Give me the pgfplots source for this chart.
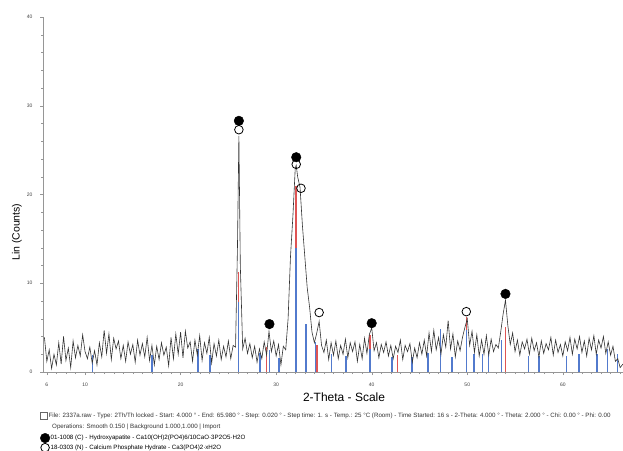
\documentclass[border=0pt]{standalone}
\usepackage{pgfplots}
\pgfplotsset{compat=1.18}
\usepackage{fontspec}
\setmainfont{Liberation Sans}
\definecolor{stickred}{RGB}{222,84,84}
\definecolor{stickblue}{RGB}{82,122,205}
\definecolor{axisgray}{RGB}{150,150,150}
\begin{document}
\begin{tikzpicture}
\useasboundingbox (0pt,0pt) rectangle (623pt,450pt);
\clip (0pt,0pt) rectangle (623pt,450pt);
\begin{axis}[
  at={(43pt,78pt)}, anchor=south west,
  scale only axis, width=580pt, height=355pt,
  xmin=5.6, xmax=66.3, ymin=0, ymax=40,
  axis x line=bottom, axis y line=left,
  axis line style={-, axisgray, line width=0.6pt},
  every tick/.style={axisgray, line width=0.4pt},
  tick align=outside, major tick length=3pt, minor tick length=2pt,
  xtick={6,10,20,30,40,50,60},
  minor xtick={7,8,9,11,12,...,19,21,22,...,29,31,32,...,39,41,42,...,49,51,52,...,59,61,62,...,66},
  ytick={0,10,20,30,40},
  minor ytick={2,4,...,38},
  /pgf/number format/assume math mode=true,
  tick label style={font=\fontsize{5}{6}\selectfont, text=black!75},
  xticklabel style={yshift=-4pt},
  yticklabel style={xshift=-4pt},
  xlabel={2-Theta - Scale},
  xlabel style={font=\fontsize{12}{14}\selectfont, at={(axis description cs:0.519,-0.07)}, anchor=center},
  ylabel={Lin (Counts)},
  ylabel style={font=\fontsize{10.5}{12}\selectfont, at={(axis description cs:-0.045,0.394)}, anchor=center},
  legend style={at={(axis description cs:-0.005,-0.172)}, anchor=north west, draw=none, fill=none,
    font=\fontsize{6.2}{7}\selectfont, inner sep=0pt, row sep=0.5pt,
    nodes={inner sep=0.8pt}},
  legend cell align=left,
  clip=false,
]
% red sticks (reference pattern)
\addplot[ycomb, stickred, line width=1.5pt, forget plot] coordinates {
(26.05,11.3) (29.0,2.8) (32.1,21.0) (34.3,3.0) (39.8,4.2) (42.7,1.9) (49.9,6.2) (54.0,5.1)
};
% blue sticks (reference pattern)
\addplot[ycomb, stickblue, line width=1.5pt, forget plot] coordinates {
(10.8,1.9) (17.0,1.9) (21.8,2.6) (23.1,1.9) (26.05,7.9) (28.3,2.1) (29.3,2.5) (30.3,1.6)
(32.1,14.0) (33.1,5.4) (34.1,3.4) (35.8,2.0) (37.3,1.8) (39.8,2.6) (42.1,1.7) (44.2,1.7)
(45.9,2.1) (47.2,4.9) (48.4,1.7) (49.9,4.7) (50.7,2.0) (51.6,2.0) (52.2,2.3) (53.6,3.6)
(56.4,1.8) (57.5,1.8) (60.4,1.8) (61.7,2.0) (63.6,2.0) (64.7,2.6) (65.7,2.0)
};
% measured pattern
\addplot[black!80, line width=0.6pt, forget plot] coordinates {
(5.75,3.9) (6.0,1.2) (6.25,2.5) (6.5,0.4) (6.75,2.0) (7.0,0.8) (7.25,3.3) (7.5,0.9) (7.75,4.0) (8.0,1.3)
(8.25,2.7) (8.5,0.5) (8.75,3.5) (9.0,1.6) (9.25,3.0) (9.5,1.8) (9.75,4.2) (10.0,2.3)
(10.25,1.5) (10.5,2.8) (10.75,1.0) (11.0,2.4) (11.25,0.8) (11.5,3.3) (11.75,1.7) (12.0,4.7) (12.25,2.1) (12.5,4.3)
(12.75,1.4) (13.0,3.8) (13.25,2.6) (13.5,3.5) (13.75,1.5) (14.0,3.0) (14.25,1.2) (14.5,3.4) (14.75,2.0) (15.0,3.1)
(15.25,1.1) (15.5,3.6) (15.75,1.9) (16.0,3.2) (16.25,1.7) (16.5,3.9) (16.75,1.3) (17.0,3.0) (17.25,0.8) (17.5,2.9)
(17.75,1.4) (18.0,3.3) (18.25,1.9) (18.5,2.8) (18.75,0.7) (19.0,3.9) (19.25,1.5) (19.5,4.3) (19.75,2.0) (20.0,4.5)
(20.25,1.6) (20.5,4.6) (20.75,2.7) (21.0,3.4) (21.25,1.2) (21.5,3.6) (21.75,1.9) (22.0,4.1) (22.25,1.3) (22.5,3.3)
(22.75,2.1) (23.0,3.9) (23.25,1.0) (23.5,3.2) (23.75,1.8) (24.0,3.6) (24.25,1.4) (24.5,2.9) (24.75,1.7) (25.0,3.5)
(25.25,1.5) (25.5,3.0) (25.75,2.8) (25.95,14.0) (26.1,26.6) (26.25,12.0) (26.5,2.6) (26.75,3.8) (27.0,2.1) (27.25,3.2)
(27.5,1.6) (27.75,2.9) (28.0,1.1) (28.25,2.6) (28.5,1.5) (28.75,3.4) (29.0,1.9) (29.25,4.6) (29.5,2.3) (29.75,3.5)
(30.0,1.8) (30.25,3.1) (30.5,0.8) (30.75,2.9) (31.0,2.5) (31.25,6.0) (31.5,13.0) (31.75,17.5) (32.0,23.0) (32.1,23.3)
(32.25,22.0) (32.5,20.8) (32.75,16.5) (33.0,13.0) (33.25,9.5) (33.5,7.3) (33.75,4.5) (34.0,3.3) (34.25,4.4) (34.5,5.7)
(34.75,3.0) (35.0,2.2) (35.25,3.6) (35.5,1.4) (35.75,3.3) (36.0,1.9) (36.25,3.5) (36.5,1.5) (36.75,3.0) (37.0,2.0)
(37.25,3.7) (37.5,1.6) (37.75,3.3) (38.0,2.3) (38.25,3.4) (38.5,1.2) (38.75,3.1) (39.0,1.5) (39.25,3.8) (39.5,2.1)
(39.75,4.2) (40.0,5.0) (40.25,2.4) (40.5,3.3) (40.75,1.6) (41.0,3.1) (41.25,2.2) (41.5,3.4) (41.75,1.8) (42.0,3.0)
(42.25,1.5) (42.5,2.9) (42.75,2.2) (43.0,3.6) (43.25,1.4) (43.5,3.0) (43.75,2.3) (44.0,3.2) (44.25,1.1) (44.5,2.7)
(44.75,1.6) (45.0,3.3) (45.25,2.0) (45.5,3.6) (45.75,1.8) (46.0,4.4) (46.25,2.3) (46.5,4.7) (46.75,2.5) (47.0,3.9)
(47.25,2.0) (47.5,4.2) (47.75,2.8) (48.0,5.8) (48.25,2.6) (48.5,4.3) (48.75,1.7) (49.0,3.5) (49.25,2.4) (49.5,3.9)
(49.75,5.0) (50.0,6.0) (50.25,3.0) (50.5,4.6) (50.75,2.2) (51.0,4.2) (51.25,1.8) (51.5,3.6) (51.75,2.0) (52.0,4.1)
(52.25,1.9) (52.5,3.7) (52.75,2.3) (53.0,3.1) (53.25,2.7) (53.5,4.5) (53.75,6.5) (54.0,8.1) (54.25,5.2) (54.5,3.1)
(54.75,4.4) (55.0,2.3) (55.25,3.6) (55.5,1.9) (55.75,3.4) (56.0,2.6) (56.25,3.7) (56.5,2.0) (56.75,3.8) (57.0,2.4)
(57.25,3.3) (57.5,1.7) (57.75,3.5) (58.0,2.1) (58.25,3.2) (58.5,2.5) (58.75,3.9) (59.0,1.9) (59.25,3.6) (59.5,2.2)
(59.75,3.1) (60.0,1.8) (60.25,3.4) (60.5,2.4) (60.75,3.9) (61.0,2.0) (61.25,3.7) (61.5,2.6) (61.75,4.0) (62.0,2.2)
(62.25,3.5) (62.5,1.8) (62.75,3.8) (63.0,2.5) (63.25,4.1) (63.5,2.0) (63.75,3.6) (64.0,2.7) (64.25,4.0) (64.5,2.1)
(64.75,3.4) (65.0,1.9) (65.25,2.9) (65.5,1.2) (65.75,1.5) (66.0,0.5) (66.3,0.9)
};
% phase markers
\addplot[only marks, mark=*, mark size=4.8pt, mark options={fill=black, draw=black}] coordinates {
(26.1,28.3) (32.1,24.2) (29.3,5.4) (40.0,5.5) (54.0,8.8)
};
\addlegendentry{01-1008 (C) - Hydroxyapatite - Ca10(OH)2(PO4)6/10CaO·3P2O5·H2O}
\addplot[only marks, mark=o, mark size=4.3pt, mark options={fill=white, draw=black, line width=0.8pt}] coordinates {
(26.1,27.3) (32.1,23.4) (32.6,20.7) (34.5,6.7) (49.9,6.8)
};
\addlegendentry{18-0303 (N) - Calcium Phosphate Hydrate - Ca3(PO4)2·xH2O}
\end{axis}
\draw[black!60, line width=0.4pt] (40pt,31pt) rectangle (47pt,38pt);
\node[anchor=west, inner sep=0pt, font=\fontsize{6.2}{7}\selectfont, text=black!80] at (48.5pt,34pt)
 {File: 2337a.raw - Type: 2Th/Th locked - Start: 4.000 ° - End: 65.980 ° - Step: 0.020 ° - Step time: 1. s - Temp.: 25 °C (Room) - Time Started: 16 s - 2-Theta: 4.000 ° - Theta: 2.000 ° - Chi: 0.00 ° - Phi: 0.00};
\node[anchor=west, inner sep=0pt, font=\fontsize{6.2}{7}\selectfont, text=black!80] at (52pt,23pt)
 {Operations: Smooth 0.150 | Background 1.000,1.000 | Import};
\end{tikzpicture}
\end{document}
